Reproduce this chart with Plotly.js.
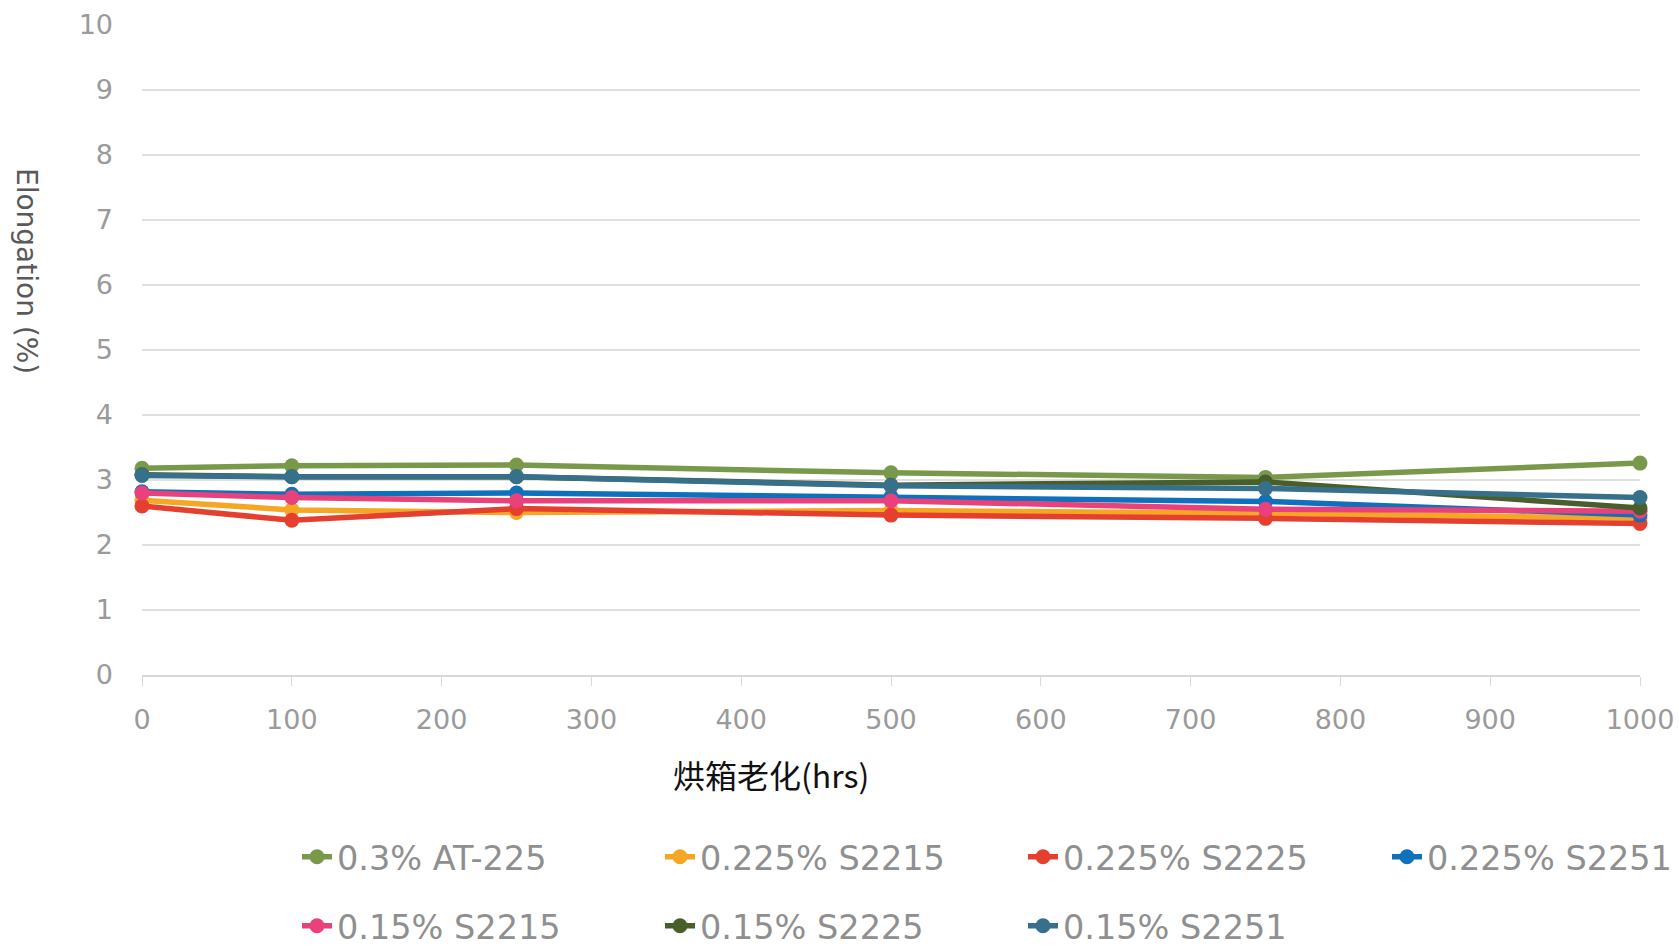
<!DOCTYPE html>
<html>
<head>
<meta charset="utf-8">
<script src="https://cdn.plot.ly/plotly-3.0.1.min.js"></script>
<style>
  html, body { margin: 0; padding: 0; background: #ffffff; }
  #chart { width: 1679px; height: 947px; }
</style>
</head>
<body>
<div id="chart"></div>
<script>
// Oven ageing time (hours)
const hours = [0, 100, 250, 500, 750, 1000];

// Elongation (%) per formulation
const at225_030   = [3.18, 3.22, 3.23, 3.11, 3.04, 3.26];
const s2215_0225  = [2.69, 2.54, 2.50, 2.53, 2.49, 2.41];
const s2225_0225  = [2.60, 2.38, 2.56, 2.46, 2.41, 2.33];
const s2251_0225  = [2.82, 2.78, 2.80, 2.74, 2.67, 2.46];
const s2215_015   = [2.80, 2.73, 2.68, 2.68, 2.55, 2.52];
const s2225_015   = [3.08, 3.05, 3.05, 2.92, 2.97, 2.57];
const s2251_015   = [3.07, 3.05, 3.05, 2.91, 2.87, 2.73];

const seriesNames = ['0.3% AT-225', '0.225% S2215', '0.225% S2225', '0.225% S2251',
                     '0.15% S2215', '0.15% S2225', '0.15% S2251'];
const seriesValues = [at225_030, s2215_0225, s2225_0225, s2251_0225,
                      s2215_015, s2225_015, s2251_015];
const colors = ['#78994a', '#f5a623', '#e5402f', '#0f70bc',
                '#e8417b', '#4a5e2c', '#37708a'];

// each series gets its own one-entry legend so the two legend rows sit on a fixed grid
const legendIds = ['legend', 'legend2', 'legend3', 'legend4', 'legend5', 'legend6', 'legend7'];

const traces = seriesNames.map((name, i) => ({
  type: 'scatter',
  mode: 'lines+markers',
  name: name,
  x: hours,
  y: seriesValues[i],
  line: { color: colors[i], width: 5.5 },
  marker: { color: colors[i], size: 15 },
  cliponaxis: false,
  legend: legendIds[i]
}));

const tickFont = { family: 'DejaVu Sans, Verdana, sans-serif', size: 27, color: '#9a9a9a' };
const legendFont = { family: 'DejaVu Sans, Verdana, sans-serif', size: 33.5, color: '#8f8f8f' };

// legend grid: column left edges and row centres, in page pixels
const legendCols = [297, 660, 1023, 1387];
const legendRows = [857, 926];

const layout = {
  width: 1679,
  height: 947,
  paper_bgcolor: '#ffffff',
  plot_bgcolor: '#ffffff',
  margin: { l: 142, r: 39, t: 25, b: 272, autoexpand: false },
  showlegend: true,
  xaxis: {
    range: [0, 1000],
    dtick: 100,
    tick0: 0,
    showgrid: false,
    zeroline: false,
    showline: true,
    linecolor: '#d9d9d9',
    linewidth: 1.5,
    ticks: 'outside',
    ticklen: 9,
    tickcolor: '#d9d9d9',
    tickfont: tickFont,
    ticklabelstandoff: 11
  },
  yaxis: {
    range: [0, 10],
    dtick: 1,
    tick0: 0,
    showgrid: true,
    gridcolor: '#e0e0e0',
    gridwidth: 1.2,
    zeroline: false,
    showline: false,
    ticks: '',
    tickfont: tickFont,
    ticklabelstandoff: 28
  },
  annotations: [
    {
      text: 'Elongation (%)',
      xref: 'paper', yref: 'paper',
      x: (27 - 142) / 1498, y: (675 - 271) / 650,
      xanchor: 'center', yanchor: 'middle',
      textangle: 90,
      showarrow: false,
      font: { family: 'DejaVu Sans, Verdana, sans-serif', size: 28, color: '#595959' }
    },
    {
      text: '烘箱老化(hrs)',
      xref: 'paper', yref: 'paper',
      x: (771 - 142) / 1498, y: (675 - 774) / 650,
      xanchor: 'center', yanchor: 'middle',
      showarrow: false,
      font: { family: 'Noto Sans CJK SC, sans-serif', size: 32, color: '#111111' }
    }
  ]
};

legendIds.forEach((id, i) => {
  const col = i < 4 ? i : i - 4;
  const row = i < 4 ? 0 : 1;
  layout[id] = {
    orientation: 'h',
    xref: 'container', yref: 'container',
    x: legendCols[col] / 1679,
    xanchor: 'left',
    y: 1 - legendRows[row] / 947,
    yanchor: 'middle',
    font: legendFont,
    bgcolor: 'rgba(0,0,0,0)',
    borderwidth: 0
  };
});

Plotly.newPlot('chart', traces, layout, { displayModeBar: false, staticPlot: true });
</script>
</body>
</html>
